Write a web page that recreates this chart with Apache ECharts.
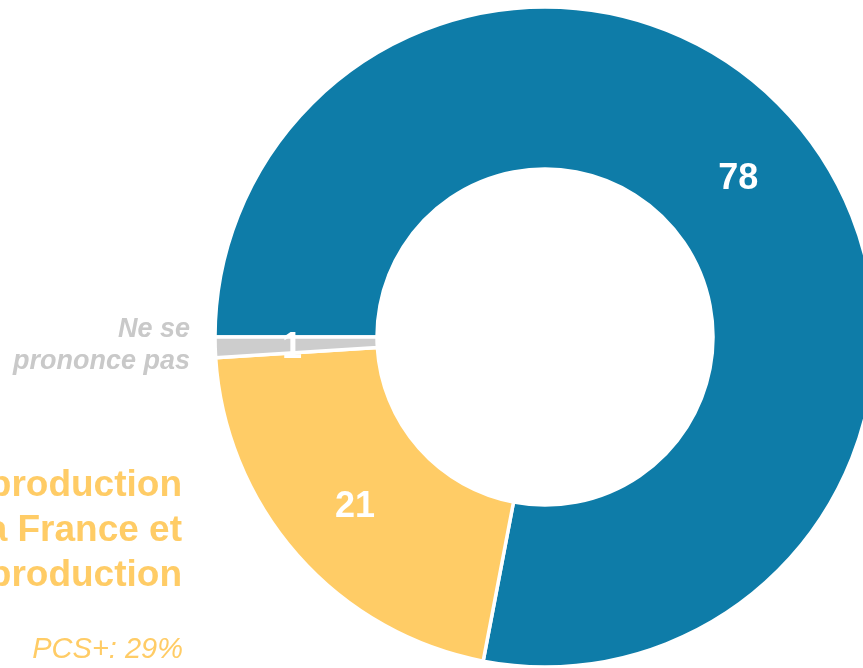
<!DOCTYPE html>
<html>
<head>
<meta charset="utf-8">
<script src="https://cdn.jsdelivr.net/npm/echarts@6/dist/echarts.min.js"></script>
<style>
html,body{margin:0;padding:0;background:#fff;}
#chart{width:863px;height:668px;}
</style>
</head>
<body>
<div id="chart"></div>
<script>
// Categories (slice order, clockwise from 9 o'clock)
var categories = [
  "Ne pas intervenir",
  "Interdire la délocalisation de la production\nen dehors de la France et\nfavoriser la relocalisation de la production",
  "Ne se\nprononce pas"
];
var values = [78, 21, 1];
var colors = ["#0E7CA8", "#FFCC66", "#CDCDCD"];
var subNotes = ["", "PCS+: 29%", ""];

var FONT = "'Liberation Sans', Arial, sans-serif";
var chart = echarts.init(document.getElementById('chart'));

var data = categories.map(function (c, i) {
  return { name: c, value: values[i], itemStyle: { color: colors[i] } };
});

chart.setOption({
  animation: false,
  series: [{
    type: 'pie',
    center: [545, 337],
    radius: [168, 330],
    startAngle: 180,
    clockwise: true,
    avoidLabelOverlap: false,
    minShowLabelAngle: 0,
    itemStyle: { borderColor: '#ffffff', borderWidth: 3.5 },
    label: {
      show: true,
      position: 'inside',
      formatter: '{c}',
      color: '#ffffff',
      fontFamily: FONT,
      fontSize: 36,
      fontWeight: 'bold',
      offset: [-1, 3]
    },
    labelLine: { show: false },
    emphasis: { disabled: true },
    data: data
  }],
  graphic: [
    {
      type: 'text',
      style: {
        x: 190, y: 346,
        text: categories[2],
        align: 'right', verticalAlign: 'middle',
        font: 'italic bold 27px ' + FONT,
        lineHeight: 32,
        fill: '#C9C9C9'
      }
    },
    {
      type: 'text',
      style: {
        x: 182, y: 531,
        text: categories[1],
        align: 'right', verticalAlign: 'middle',
        font: 'bold 37px ' + FONT,
        lineHeight: 45,
        fill: colors[1]
      }
    },
    {
      type: 'text',
      style: {
        x: 183, y: 650,
        text: subNotes[1],
        align: 'right', verticalAlign: 'middle',
        font: 'italic 29px ' + FONT,
        fill: colors[1]
      }
    }
  ]
});
</script>
</body>
</html>
